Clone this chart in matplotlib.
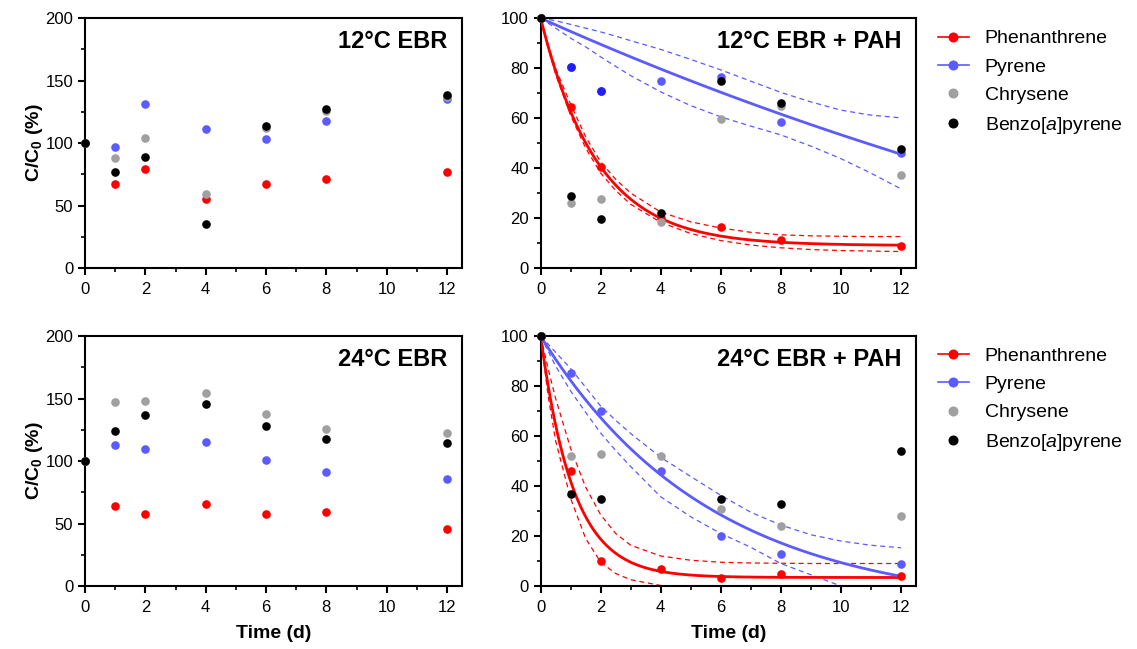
import numpy as np
import matplotlib
matplotlib.use("Agg")
import matplotlib.pyplot as plt
from matplotlib.lines import Line2D
from matplotlib.ticker import MultipleLocator

plt.rcParams['font.family'] = ['Liberation Sans', 'DejaVu Sans']
plt.rcParams['mathtext.fontset'] = 'custom'
plt.rcParams['mathtext.rm'] = 'Liberation Sans'
plt.rcParams['mathtext.it'] = 'Liberation Sans:italic'
plt.rcParams['mathtext.bf'] = 'Liberation Sans:bold'

# sampling days
days = [0, 1, 2, 4, 6, 8, 12]
compounds = ['Phenanthrene', 'Pyrene', 'Chrysene', 'Benzo[$\\it{a}$]pyrene']

# 12 C EBR (C/C0, %)
ebr12_phe = [100, 67, 79, 55, 67, 71, 76.5]
ebr12_pyr = [100, 97, 131.5, 111, 103.5, 118, 135]
ebr12_chr = [100, 88, 104, 59, 112, 126, 137]
ebr12_bap = [100, 77, 89, 35, 114, 127, 138.5]

# 12 C EBR + PAH
pah12_phe = [100, 64.4, 40.4, 20, 16.3, 11.3, 8.7]
pah12_pyr = [100, 80.3, 70.9, 74.9, 76.3, 58.5, 45.9]
pah12_chr = [100, 26, 27.5, 18.5, 59.5, 65, 37.1]
pah12_bap = [100, 28.8, 19.6, 22, 74.9, 65.9, 47.6]

# 24 C EBR
ebr24_phe = [100, 64, 57.3, 65.5, 57.5, 59, 45.8]
ebr24_pyr = [100, 112.6, 109.4, 115.6, 101.2, 91.1, 85.5]
ebr24_chr = [100, 147.3, 147.8, 154.2, 137.4, 125.4, 122.2]
ebr24_bap = [100, 124.4, 136.9, 145.7, 128.1, 117.7, 114.2]

# 24 C EBR + PAH
pah24_phe = [100, 45.9, 10, 6.9, 3.1, 4.9, 4]
pah24_pyr = [100, 85.1, 70, 46, 20, 12.9, 8.9]
pah24_chr = [100, 52, 52.9, 52, 30.9, 24, 28]
pah24_bap = [100, 36.9, 34.9, np.nan, 34.9, 32.9, 53.9]

# one-phase decay fits: (plateau, k per day), start at 100
fit12_phe = (9.0, 0.53)
fit12_pyr = (-80.0, 0.030)
fit24_phe = (3.4, 0.92)
fit24_pyr = (-9.0, 0.178)

# 95% confidence bands
band_t = [0, 0.25, 0.5, 1, 1.5, 2, 2.5, 3, 4, 5, 6, 7, 8, 9, 10, 11, 12]
band12_phe_hi = [100, 89.3, 79.8, 65.5, 52.5, 42.5, 35.5, 30, 22.4, 18.5, 16, 14.3, 13.3, 12.9, 12.7, 12.6, 12.6]
band12_phe_lo = [100, 88, 77.5, 61, 48, 38, 31, 25.5, 18.3, 13.8, 11, 9.2, 8.1, 7.4, 7, 6.8, 6.6]
band12_pyr_hi = [100, 99.5, 99, 97.5, 96, 94.5, 92.8, 91, 87.5, 83.5, 79.3, 74.8, 70.3, 66.5, 63.2, 61.2, 60.1]
band12_pyr_lo = [100, 98, 96, 92, 88.5, 84.5, 80.7, 77, 70.5, 65, 60.5, 56.8, 53.3, 48.8, 43.8, 38, 31.7]
band24_phe_hi = [100, 87, 75, 55, 39.5, 28.5, 21, 16.3, 12, 10.3, 9.5, 9.2, 9.1, 9.0, 9.0, 9.0, 9.0]
band24_phe_lo = [100, 76, 58, 35, 19, 9.5, 5, 2.5, 0.2, -1.2, -2, -2.3, -2.5, -2.6, -2.7, -2.7, -2.7]
band24_pyr_hi = [100, 96.8, 93.5, 87, 79.5, 72, 66.3, 61, 51.5, 43.8, 36.3, 29.5, 24.4, 20.5, 18, 16.3, 15.3]
band24_pyr_lo = [100, 94, 88, 78, 69.5, 61.2, 54.2, 47.8, 35.7, 27.7, 21, 15.5, 9, 4.5, 0, -5, -10]

colors = ['#ff0000', '#5b5bff', '#a0a0a0', '#000000']
MS = 6.2


def decay(t, params):
    plateau, k = params
    return plateau + (100 - plateau) * np.exp(-k * t)


def style_axes(ax, ymax, ymajor, yminor, title, xlabel):
    ax.set_xlim(0, 12.5)
    ax.set_ylim(0, ymax)
    ax.xaxis.set_major_locator(MultipleLocator(2))
    ax.xaxis.set_minor_locator(MultipleLocator(1))
    ax.yaxis.set_major_locator(MultipleLocator(ymajor))
    ax.yaxis.set_minor_locator(MultipleLocator(yminor))
    ax.set_xticks([0, 2, 4, 6, 8, 10, 12])
    ax.tick_params(which='major', direction='out', length=5, width=1.5, labelsize=12)
    ax.tick_params(axis='x', which='major', pad=5)
    ax.tick_params(which='minor', direction='out', length=3, width=1.2)
    for s in ax.spines.values():
        s.set_linewidth(1.5)
    ax.text(0.962, 0.905, title, transform=ax.transAxes, ha='right', va='center',
            fontsize=17, fontweight='bold')
    if xlabel:
        ax.set_xlabel('Time (d)', fontsize=14, fontweight='bold', labelpad=7)


def scatter_all(ax, series, cols):
    for vals, c in zip(series, cols):
        ax.plot(days, vals, 'o', color=c, ms=MS, mec='none', clip_on=False, zorder=5)


fig = plt.figure(figsize=(11.37, 6.49), dpi=100)
ax1 = fig.add_axes([0.0748, 0.587, 0.3316, 0.385])
ax2 = fig.add_axes([0.4755, 0.587, 0.3300, 0.385])
ax3 = fig.add_axes([0.0748, 0.0971, 0.3316, 0.385])
ax4 = fig.add_axes([0.4755, 0.0971, 0.3300, 0.385])

tt = np.linspace(0, 12, 300)
dash = dict(lw=0.9, ls=(0, (4, 3)))

# left panels: no PAH added
scatter_all(ax1, [ebr12_phe, ebr12_pyr, ebr12_chr, ebr12_bap], colors)
scatter_all(ax3, [ebr24_phe, ebr24_pyr, ebr24_chr, ebr24_bap], colors)

# right panels: fits + bands
for ax, fphe, fpyr, bands in [
        (ax2, fit12_phe, fit12_pyr, (band12_phe_hi, band12_phe_lo, band12_pyr_hi, band12_pyr_lo)),
        (ax4, fit24_phe, fit24_pyr, (band24_phe_hi, band24_phe_lo, band24_pyr_hi, band24_pyr_lo))]:
    ax.plot(tt, decay(tt, fphe), color=colors[0], lw=2, zorder=3)
    ax.plot(tt, decay(tt, fpyr), color=colors[1], lw=2, zorder=3)
    ax.plot(band_t, bands[0], color=colors[0], **dash)
    ax.plot(band_t, bands[1], color=colors[0], **dash)
    ax.plot(band_t, bands[2], color=colors[1], **dash)
    ax.plot(band_t, bands[3], color=colors[1], **dash)

scatter_all(ax2, [pah12_phe, pah12_pyr, pah12_chr, pah12_bap], colors)
scatter_all(ax4, [pah24_phe, pah24_pyr, pah24_chr, pah24_bap], colors)
# the first two pyrene points at 12 C look more saturated
ax2.plot(days[1:3], pah12_pyr[1:3], 'o', color='#1f1fff', ms=MS, mec='none', zorder=5)

style_axes(ax1, 200, 50, 25, '12°C EBR', False)
style_axes(ax2, 100, 20, 10, '12°C EBR + PAH', False)
style_axes(ax3, 200, 50, 25, '24°C EBR', True)
style_axes(ax4, 100, 20, 10, '24°C EBR + PAH', True)

for ax in (ax1, ax3):
    ax.set_ylabel('C/C$_\\mathbf{0}$ (%)', fontsize=14, fontweight='bold', labelpad=0)

handles = [Line2D([], [], color=colors[0], marker='o', ms=MS, lw=1.2),
           Line2D([], [], color=colors[1], marker='o', ms=MS, lw=1.2),
           Line2D([], [], color=colors[2], marker='o', ms=MS, ls='none'),
           Line2D([], [], color=colors[3], marker='o', ms=MS, ls='none')]
for y in (0.966, 0.477):
    fig.legend(handles, compounds, loc='upper left', bbox_to_anchor=(0.818, y),
               frameon=False, fontsize=14, handlelength=1.6, handletextpad=0.8,
               labelspacing=0.55, borderaxespad=0)

fig.savefig('out.png', dpi=100)
